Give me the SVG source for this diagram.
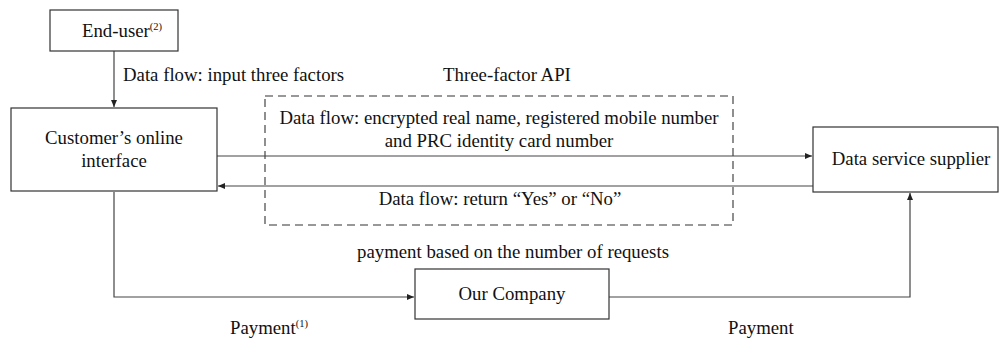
<svg xmlns="http://www.w3.org/2000/svg" width="1000" height="340" viewBox="0 0 1000 340">
<style>
text{font-family:"Liberation Serif","Times New Roman",serif;font-size:18.8px;fill:#111}
.sup{font-size:10.5px}
.box{fill:#fff;stroke:#333;stroke-width:1.2}
.ln{fill:none;stroke:#444;stroke-width:1.2}
.dash{fill:none;stroke:#333;stroke-width:1.1;stroke-dasharray:8 5}
</style>
<defs>
<marker id="ah" markerWidth="8" markerHeight="8" refX="7" refY="4" orient="auto" markerUnits="userSpaceOnUse">
<path d="M0,1 L7,4 L0,7 Z" fill="#222"/>
</marker>
</defs>
<rect width="1000" height="340" fill="#fff"/>
<g id="api-boundary">
<rect class="dash" x="265" y="96" width="468" height="129"/>
<text x="507" y="81" text-anchor="middle">Three-factor API</text>
</g>
<g id="connectors">
<line class="ln" x1="114" y1="51" x2="114" y2="107" marker-end="url(#ah)"/>
<text x="123" y="81">Data flow: input three factors</text>
<line class="ln" x1="217" y1="156" x2="812" y2="156" marker-end="url(#ah)"/>
<text x="499" y="124" text-anchor="middle">Data flow: encrypted real name, registered mobile number</text>
<text x="499" y="147" text-anchor="middle">and PRC identity card number</text>
<line class="ln" x1="813" y1="186" x2="218" y2="186" marker-end="url(#ah)"/>
<text x="500" y="205" text-anchor="middle">Data flow: return “Yes” or “No”</text>
<polyline class="ln" points="114,192 114,297 414,297" marker-end="url(#ah)"/>
<text x="230" y="334">Payment<tspan class="sup" dy="-7">(1)</tspan></text>
<polyline class="ln" points="609,297 910,297 910,193" marker-end="url(#ah)"/>
<text x="728" y="334">Payment</text>
<text x="513" y="258" text-anchor="middle">payment based on the number of requests</text>
</g>
<g id="end-user">
<rect class="box" x="50" y="10" width="128" height="41"/>
<text x="82" y="37">End-user<tspan class="sup" dy="-7">(2)</tspan></text>
</g>
<g id="customer">
<rect class="box" x="11" y="108" width="206" height="83"/>
<text x="114" y="144" text-anchor="middle">Customer’s online</text>
<text x="114" y="167" text-anchor="middle">interface</text>
</g>
<g id="supplier">
<rect class="box" x="813" y="127" width="185" height="65"/>
<text x="911" y="165" text-anchor="middle">Data service supplier</text>
</g>
<g id="company">
<rect class="box" x="415" y="269" width="194" height="50"/>
<text x="512" y="300" text-anchor="middle">Our Company</text>
</g>
</svg>
